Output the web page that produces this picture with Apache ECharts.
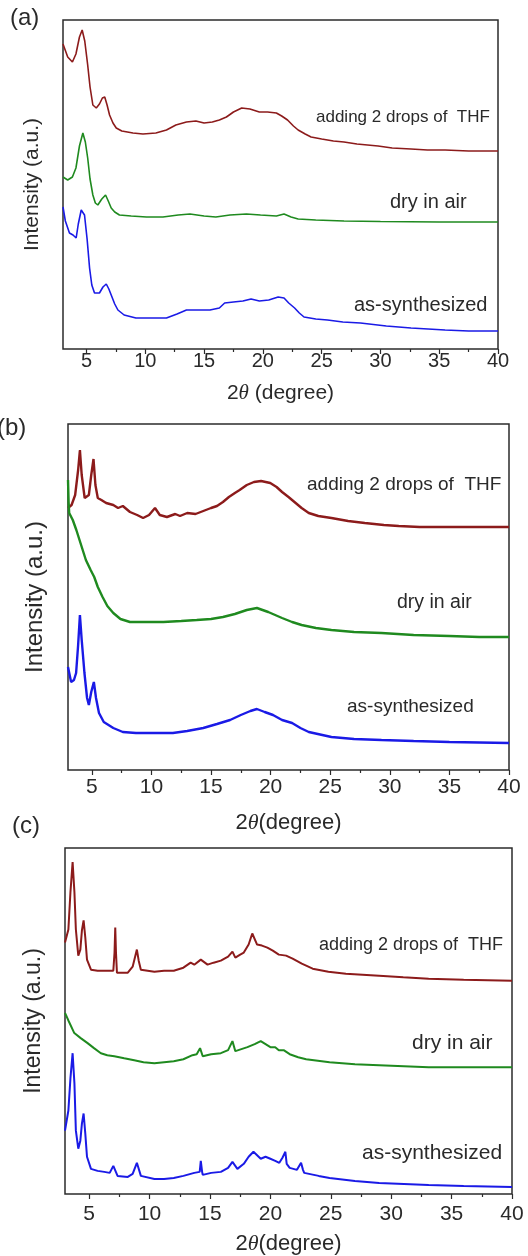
<!DOCTYPE html>
<html>
<head>
<meta charset="utf-8">
<script src="https://cdn.jsdelivr.net/npm/echarts@6/dist/echarts.min.js"></script>
<style>
html,body{margin:0;padding:0;background:#fff;}
#chart{width:528px;height:1256px;}
</style>
</head>
<body>
<div id="chart"></div>
<script>
// ---- tick labels ----
const xTicks = [5, 10, 15, 20, 25, 30, 35, 40];
const xMinorTicks = [7.5, 12.5, 17.5, 22.5, 27.5, 32.5, 37.5];
const seriesNames = ['adding 2 drops of  THF', 'dry in air', 'as-synthesized'];

// ---- panel (a) : [2theta, intensity (a.u.)] ----
const aTHF = [[3.0,305],[3.4,292],[3.8,287],[4.1,295],[4.4,312],[4.63,319],[4.85,308],[5.1,284],[5.3,262],[5.54,244],[5.83,241],[6.1,245],[6.35,251],[6.55,252],[6.75,244],[6.96,234],[7.25,226],[7.53,221],[8.0,218],[8.95,216],[9.8,215],[10.9,216],[11.8,219],[12.6,224],[13.5,227],[14.3,228],[15.0,226],[15.7,227],[16.3,229],[16.9,232],[17.5,237],[18.2,241],[18.9,240],[19.7,237],[20.4,237],[21.15,236],[21.6,233],[22.1,229],[22.6,223],[23.0,219],[23.6,215],[24.1,212],[25.0,210],[26.0,208],[26.9,207],[28.0,205],[29.8,203],[31.0,201],[32.6,200],[34.0,199],[35.5,199],[37.5,198],[40,198]];
const aDry = [[3.0,172],[3.4,169],[3.8,172],[4.1,181],[4.4,203],[4.69,216],[4.9,207],[5.1,191],[5.3,170],[5.54,154],[5.75,146],[5.96,144],[6.3,150],[6.62,154],[6.85,148],[7.1,141],[7.4,137],[7.8,134],[8.8,133],[10.1,132],[11.5,132],[12.8,134],[13.8,135],[15.0,133],[16.0,132],[17.2,134],[18.6,135],[19.8,134],[21.15,133],[21.8,135],[22.4,132],[23.0,130],[24.5,129],[26.9,128],[30,127.5],[35,127],[40,127]];
const aAs = [[3.0,142],[3.2,128],[3.55,116],[3.85,114],[4.12,111],[4.3,125],[4.55,139],[4.83,134],[5.05,110],[5.26,81],[5.45,64],[5.68,56],[6.1,56],[6.4,62],[6.68,65],[6.9,60],[7.1,54],[7.4,45],[7.67,39],[8.2,34],[9.2,31],[10.5,31],[11.8,31],[12.7,35],[13.5,39],[14.5,39],[15.5,39],[16.3,41],[16.75,46],[17.5,47],[18.3,48],[19.0,50],[19.7,48],[20.5,49],[21.3,52],[21.8,51],[22.2,46],[22.7,41],[23.1,36],[23.5,32],[24.5,30],[25.5,29],[26.8,27],[28.3,26],[30.5,23],[32.6,21],[35.5,19],[37.5,18],[40,18]];

// ---- panel (b) ----
const bTHF = [[3.0,262],[3.3,265],[3.6,275],[3.85,300],[4.0,320],[4.15,295],[4.4,272],[4.75,275],[4.95,295],[5.14,311],[5.3,285],[5.5,272],[5.8,270],[6.2,267],[6.8,265],[7.2,262],[7.6,264],[8.2,258],[8.8,255],[9.3,252],[9.8,255],[10.3,262],[10.7,255],[11.3,253],[12.0,256],[12.4,254],[13.0,257],[13.7,256],[14.35,259],[15.0,262],[15.5,264],[16.0,268],[16.5,273],[17.0,277],[17.4,280],[18.0,285],[18.6,288],[19.2,289],[19.97,287],[20.5,283],[20.96,278],[21.5,273],[22.0,268],[22.6,262],[23.2,257],[24.0,254],[25.1,252],[26.5,249],[27.9,247],[29.5,245],[30.75,244],[32.5,243],[35.0,243],[37.5,243],[40,243]];
const bDry = [[3.0,290],[3.05,268],[3.1,257],[3.4,250],[3.7,240],[4.1,225],[4.5,210],[4.9,200],[5.2,193],[5.5,183],[5.9,173],[6.3,164],[6.8,157],[7.4,151],[8.2,148],[9.5,148],[11.0,148],[12.5,149],[13.8,150],[15.0,151],[16.0,153],[17.0,156],[18.0,160],[18.85,162],[19.8,158],[20.96,152],[21.8,148],[22.6,145],[23.8,142],[25.1,140],[27.0,138],[29.3,137],[32.0,135],[35,134],[37.5,133],[40,133]];
const bAs = [[3.0,103],[3.26,88],[3.5,90],[3.68,97],[3.85,125],[4.0,155],[4.15,130],[4.38,97],[4.6,72],[4.75,65],[4.95,78],[5.17,88],[5.35,72],[5.6,57],[6.0,48],[6.8,42],[7.6,38],[8.7,37],[10.0,37],[11.8,37],[13.0,39],[14.35,42],[15.5,46],[16.6,50],[17.5,55],[18.3,59],[18.85,61],[19.5,58],[20.2,55],[20.96,50],[21.8,47],[22.5,42],[23.2,38],[25.1,33],[27.0,31],[29.3,30],[32,29],[35,28],[37.5,27.5],[40,27]];

// ---- panel (c) ----
const cTHF = [[3.0,250],[3.28,263],[3.45,300],[3.63,330],[3.78,300],[3.9,263],[4.1,237],[4.27,243],[4.4,262],[4.54,272],[4.68,255],[4.82,233],[5.15,223],[5.7,222],[6.25,222],[7.0,222],[7.1,240],[7.16,265],[7.22,240],[7.3,220],[7.8,220],[8.2,220],[8.6,226],[8.95,243],[9.1,232],[9.28,223],[10.4,221],[11.2,222],[12.0,222],[12.8,225],[13.4,230],[13.7,228],[14.24,233],[14.8,228],[15.3,230],[15.9,232],[16.5,236],[16.86,241],[17.1,235],[17.5,238],[17.8,240],[18.2,248],[18.5,259],[18.9,248],[19.3,247],[19.75,245],[20.2,242],[20.7,238],[21.3,237],[21.84,234],[22.6,229],[23.5,224],[24.8,221],[26.25,219],[29.0,217],[31,215.5],[33.1,214],[36,213],[40,212]];
const cDry = [[3.0,180],[3.3,172],[3.77,160],[4.3,155],[4.87,150],[5.4,145],[5.97,140],[6.5,138],[7.08,137],[7.9,135],[8.73,133],[9.5,131],[10.4,130],[11.2,131],[12.0,132],[12.8,134],[13.55,138],[13.9,139],[14.18,145],[14.4,137],[15.1,139],[15.9,140],[16.5,143],[16.86,152],[17.1,142],[17.6,144],[18.1,146],[18.7,149],[19.2,152],[19.6,149],[20.0,146],[20.4,146],[20.7,143],[21.1,143],[21.6,139],[22.3,136],[22.96,134],[24.9,131],[27,129],[29.0,128],[33.1,126],[36,126],[40,126]];
const cAs = [[3.0,63],[3.28,83],[3.45,115],[3.63,140],[3.78,110],[3.9,63],[4.1,45],[4.27,53],[4.4,70],[4.54,80],[4.68,60],[4.82,37],[5.15,25],[5.7,23],[6.25,22],[6.7,21],[7.0,28],[7.35,18],[8.2,17],[8.6,20],[8.95,31],[9.28,18],[10.4,15],[11.2,15],[12.0,16],[12.8,18],[13.7,21],[14.15,22],[14.24,33],[14.35,22],[14.4,19],[15.1,21],[15.9,22],[16.5,26],[16.86,32],[17.27,25],[17.8,30],[18.2,37],[18.6,42],[19.2,35],[19.6,37],[20.0,35],[20.4,33],[20.74,31],[21.0,36],[21.24,42],[21.35,30],[21.6,26],[22.2,24],[22.54,31],[22.7,24],[22.8,21],[24.0,18],[24.9,16],[27,13],[29,11],[33.1,9],[36,8],[40,7]];

const FONT = '"Liberation Sans", Arial, sans-serif';
const TXT = '#2a2a2a';
const COLORS = ['#8c1b1b', '#1f8a1f', '#1a1ae6'];

const panels = [
  {grid:{left:63, top:20, width:435, height:329}, ymax:329, data:[aTHF,aDry,aAs], lw:1.6,
   labelSize:20, labelMargin:2, xName:'2{t|θ} (degree)', nameGap:34, nameSize:21, yNameSize:21, yNameGap:20},
  {grid:{left:68, top:424, width:441, height:346}, ymax:346, data:[bTHF,bDry,bAs], lw:2.4,
   labelSize:21, labelMargin:7, xName:'2{t|θ}(degree)', nameGap:42, nameSize:22, yNameSize:24, yNameGap:21},
  {grid:{left:65, top:848, width:447, height:348}, ymax:344, data:[cTHF,cDry,cAs], lw:2.0,
   labelSize:21, labelMargin:10, xName:'2{t|θ}(degree)', nameGap:39, nameSize:22, yNameSize:23, yNameGap:20}
];

const grid = [], xAxis = [], yAxis = [], series = [];
panels.forEach((p, i) => {
  grid.push(Object.assign({show:true, borderColor:'#2b2b2b', borderWidth:1.5, backgroundColor:'transparent'}, p.grid));
  xAxis.push({
    type:'value', gridIndex:i, min:3, max:40, position:'bottom',
    axisLine:{show:false},
    axisTick:{show:true, length:5, inside:false, customValues:xTicks, lineStyle:{color:'#2b2b2b', width:1.2}},
    axisLabel:{show:true, customValues:xTicks, fontSize:p.labelSize, fontFamily:FONT, color:TXT, margin:p.labelMargin},
    splitLine:{show:false},
    name:p.xName, nameLocation:'middle', nameGap:p.nameGap,
    nameTextStyle:{fontSize:p.nameSize, fontFamily:FONT, color:TXT,
      rich:{t:{fontSize:p.nameSize, fontFamily:'"Liberation Serif", serif', fontStyle:'italic', color:TXT}}}
  });
  // minor tick axis overlay
  xAxis.push({
    type:'value', gridIndex:i, min:3, max:40, position:'bottom',
    axisLine:{show:false},
    axisTick:{show:true, length:3, customValues:xMinorTicks, lineStyle:{color:'#2b2b2b', width:1.2}},
    axisLabel:{show:false}, splitLine:{show:false}
  });
  yAxis.push({
    type:'value', gridIndex:i, min:0, max:p.ymax,
    axisLine:{show:false}, axisTick:{show:false}, axisLabel:{show:false}, splitLine:{show:false},
    name:'Intensity (a.u.)', nameLocation:'middle', nameGap:p.yNameGap,
    nameTextStyle:{fontSize:p.yNameSize, fontFamily:FONT, color:TXT}
  });
  p.data.forEach((d, k) => {
    series.push({
      type:'line', name:seriesNames[k], xAxisIndex:i*2, yAxisIndex:i, data:d,
      showSymbol:false, symbol:'none', smooth:false,
      lineStyle:{color:COLORS[k], width:p.lw}, itemStyle:{color:COLORS[k]}
    });
  });
});

function txt(x, y, text, size) {
  return {type:'text', x:x, y:y, style:{text:text, fontSize:size, fontFamily:FONT, fill:TXT, verticalAlign:'middle', align:'left'}};
}
const graphic = [
  txt(10, 18, '(a)', 24),
  txt(-3, 428, '(b)', 24),
  txt(12, 826, '(c)', 24),
  txt(316, 117, seriesNames[0], 17),
  txt(390, 202, seriesNames[1], 20),
  txt(354, 305, seriesNames[2], 20),
  txt(307, 485, seriesNames[0], 19),
  txt(397, 603, seriesNames[1], 19.5),
  txt(347, 707, seriesNames[2], 19),
  txt(319, 945, seriesNames[0], 18),
  txt(412, 1043, seriesNames[1], 21),
  txt(362, 1153, seriesNames[2], 21)
];

const chart = echarts.init(document.getElementById('chart'), null, {renderer:'canvas'});
chart.setOption({animation:false, backgroundColor:'#fff', grid, xAxis, yAxis, series, graphic});
</script>
</body>
</html>
